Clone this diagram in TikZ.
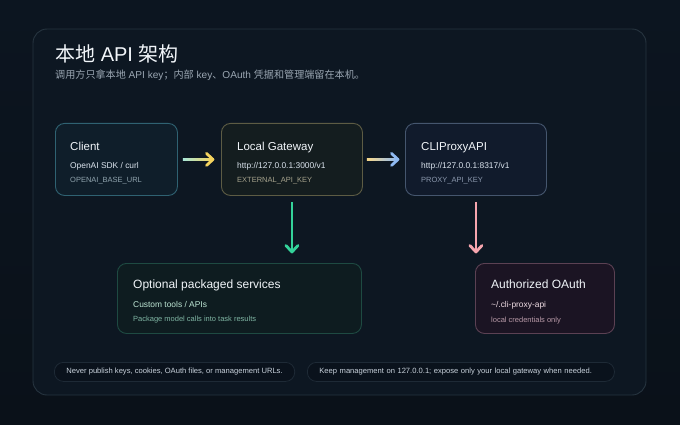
\documentclass[tikz,border=0pt]{standalone}
\usepackage{fontspec}
\setmainfont{Liberation Sans}
\newfontfamily\cjk{Noto Sans CJK SC}
\usetikzlibrary{calc}
\definecolor{bgA}{HTML}{0C1520}
\definecolor{bgB}{HTML}{0A1119}
\definecolor{panelfill}{HTML}{0D1722}
\definecolor{panelline}{HTML}{26343F}
\definecolor{titlec}{HTML}{F1F5F9}
\definecolor{subc}{HTML}{9AA6B2}
\definecolor{clientfill}{HTML}{0F1E2A}
\definecolor{clientline}{HTML}{2F6272}
\definecolor{gwfill}{HTML}{141D1F}
\definecolor{gwline}{HTML}{5D5C44}
\definecolor{pxfill}{HTML}{111B2C}
\definecolor{pxline}{HTML}{45566E}
\definecolor{optfill}{HTML}{0E1C20}
\definecolor{optline}{HTML}{1E4A42}
\definecolor{oafill}{HTML}{1B1423}
\definecolor{oaline}{HTML}{5B4153}
\definecolor{lineA}{HTML}{DBE4EE}
\definecolor{clientsub}{HTML}{8FA3AD}
\definecolor{gwsub}{HTML}{A5A28C}
\definecolor{pxsub}{HTML}{8B98AD}
\definecolor{optA}{HTML}{BFE8D6}
\definecolor{optB}{HTML}{7FB5A3}
\definecolor{oaA}{HTML}{F0DDE4}
\definecolor{oaB}{HTML}{B99AA8}
\definecolor{pillfill}{HTML}{0A121C}
\definecolor{pillline}{HTML}{1E2A36}
\definecolor{pilltext}{HTML}{C9D2DC}
\definecolor{tealA}{HTML}{A8E6D8}
\definecolor{yellowA}{HTML}{F4D35E}
\definecolor{yellowB}{HTML}{F8D88A}
\definecolor{blueA}{HTML}{8FBAF2}
\definecolor{greenA}{HTML}{34D39A}
\definecolor{pinkA}{HTML}{F6A5AE}
\begin{document}
\begin{tikzpicture}[x=1pt,y=-1pt,
  box/.style={rectangle, rounded corners=9pt, line width=0.9pt, anchor=north west, inner sep=0pt},
  ttl/.style={anchor=base west, inner sep=0pt, text=titlec, font=\fontsize{11.5}{13}\selectfont},
  bigttl/.style={anchor=base west, inner sep=0pt, text=titlec, font=\fontsize{12}{14}\selectfont},
  lineone/.style={anchor=base west, inner sep=0pt, font=\fontsize{8.4}{10}\selectfont},
  linetwo/.style={anchor=base west, inner sep=0pt, font=\fontsize{7.5}{9}\selectfont},
  pill/.style={rectangle, rounded corners=9pt, line width=0.8pt, draw=pillline, fill=pillfill, text=pilltext, font=\fontsize{7.6}{9}\selectfont, minimum height=19pt, anchor=north west, inner ysep=0pt, inner xsep=12pt},
  chev/.style={line width=2.8pt, line cap=round, line join=round}
]
\useasboundingbox (0,0) rectangle (680,425);
\shade[top color=bgA, bottom color=bgB] (0,0) rectangle (680,425);
\draw[panelline, fill=panelfill, line width=0.9pt, rounded corners=14pt] (33,29) rectangle (646,395);

% header
\node[anchor=base west, inner sep=0pt, text=titlec, font=\fontsize{20}{23}\selectfont] (title) at (55,62) {{\cjk 本地} API {\cjk 架构}};
\node[anchor=base west, inner sep=0pt, text=subc, font=\fontsize{10.1}{12}\selectfont] (sub) at (55,78.5) {{\cjk 调用方只拿本地} API key{\cjk ；内部} key{\cjk 、}OAuth {\cjk 凭据和管理端留在本机。}};

% boxes
\node[box, draw=clientline, fill=clientfill, minimum width=122pt, minimum height=72pt] (client) at (55,123) {};
\node[box, draw=gwline, fill=gwfill, minimum width=141pt, minimum height=72pt] (gw) at (221,123) {};
\node[box, draw=pxline, fill=pxfill, minimum width=141pt, minimum height=72pt] (px) at (405,123) {};
\node[box, draw=optline, fill=optfill, minimum width=244pt, minimum height=70pt] (opt) at (117,263) {};
\node[box, draw=oaline, fill=oafill, minimum width=139pt, minimum height=70pt] (oa) at (475,263) {};

% box texts
\node[ttl] (clientT) at ($(client.north west)+(15,27)$) {Client};
\node[lineone, text=lineA] (clientA) at ($(client.north west)+(15,45)$) {OpenAI SDK / curl};
\node[linetwo, text=clientsub] (clientB) at ($(client.north west)+(15,59.5)$) {OPENAI\_BASE\_URL};

\node[ttl] (gwT) at ($(gw.north west)+(16,27)$) {Local Gateway};
\node[lineone, text=lineA] (gwA) at ($(gw.north west)+(16,45)$) {http://127.0.0.1:3000/v1};
\node[linetwo, text=gwsub] (gwB) at ($(gw.north west)+(16,59.5)$) {EXTERNAL\_API\_KEY};

\node[ttl] (pxT) at ($(px.north west)+(16,27)$) {CLIProxyAPI};
\node[lineone, text=lineA] (pxA) at ($(px.north west)+(16,45)$) {http://127.0.0.1:8317/v1};
\node[linetwo, text=pxsub] (pxB) at ($(px.north west)+(16,59.5)$) {PROXY\_API\_KEY};

\node[bigttl] (optT) at ($(opt.north west)+(16,25)$) {Optional packaged services};
\node[lineone, text=optA] (optA) at ($(opt.north west)+(16,44)$) {Custom tools / APIs};
\node[linetwo, text=optB] (optB) at ($(opt.north west)+(16,58.5)$) {Package model calls into task results};

\node[bigttl] (oaT) at ($(oa.north west)+(16,25)$) {Authorized OAuth};
\node[lineone, text=oaA] (oaA) at ($(oa.north west)+(16,44)$) {\char`~/.cli-proxy-api};
\node[linetwo, text=oaB] (oaB) at ($(oa.north west)+(16,59)$) {local credentials only};

% arrow client -> gateway
\coordinate (a1s) at ($(client.east)+(5,0)$);
\coordinate (a1e) at ($(gw.west)+(-8,0)$);
\shade[left color=tealA, right color=yellowA] ($(a1s)+(0,-1.4)$) rectangle ($(a1e)+(-1,1.4)$);
\draw[chev, yellowA] ($(a1e)+(-6.5,-6)$) -- (a1e) -- ($(a1e)+(-6.5,6)$);

% arrow gateway -> proxy
\coordinate (a2s) at ($(gw.east)+(4,0)$);
\coordinate (a2e) at ($(px.west)+(-7,0)$);
\shade[left color=yellowB, right color=blueA] ($(a2s)+(0,-1.4)$) rectangle ($(a2e)+(-1,1.4)$);
\draw[chev, blueA] ($(a2e)+(-6.5,-6)$) -- (a2e) -- ($(a2e)+(-6.5,6)$);

% arrow gateway -> optional
\coordinate (d1s) at ($(gw.south)+(0,6)$);
\coordinate (d1e) at ($(d1s |- opt.north)+(0,-11)$);
\draw[line width=2.8pt, greenA] (d1s) -- ($(d1e)+(0,-1)$);
\draw[chev, greenA] ($(d1e)+(-6,-6.5)$) -- (d1e) -- ($(d1e)+(6,-6.5)$);

% arrow proxy -> oauth
\coordinate (d2s) at ($(px.south)+(0,6)$);
\coordinate (d2e) at ($(d2s |- oa.north)+(0,-11)$);
\draw[line width=2.8pt, pinkA] (d2s) -- ($(d2e)+(0,-1)$);
\draw[chev, pinkA] ($(d2e)+(-6,-6.5)$) -- (d2e) -- ($(d2e)+(6,-6.5)$);

% footer pills
\node[pill, minimum width=240pt] (p1) at (54,362) {Never publish keys, cookies, OAuth files, or management URLs.};
\node[pill, text width=283pt, align=left] (p2) at (307,362) {Keep management on 127.0.0.1; expose only your local gateway when needed.};
\end{tikzpicture}
\end{document}
